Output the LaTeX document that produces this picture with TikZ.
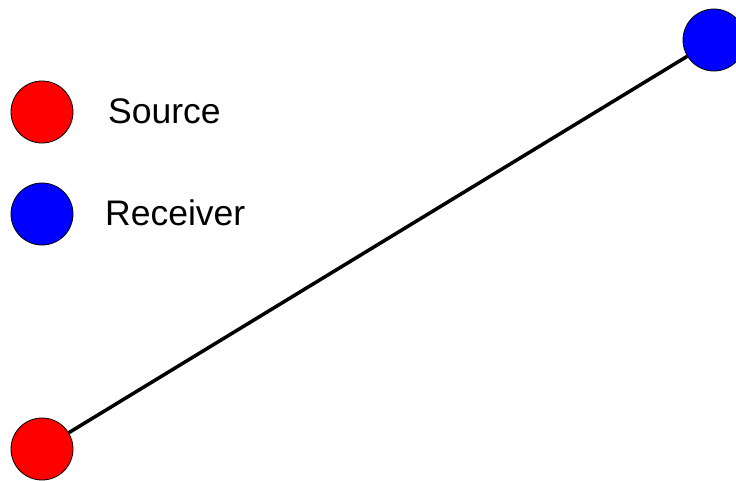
\documentclass[tikz,border=0pt]{standalone}
\usepackage{fontspec}
\setmainfont{Liberation Sans}
\begin{document}
\begin{tikzpicture}[x=1pt,y=-1pt,
  dot/.style={circle,draw=black,line width=0.8pt,minimum size=62pt,inner sep=0pt},
  srcdot/.style={dot,fill=red},
  rcvdot/.style={dot,fill=blue},
  lbl/.style={anchor=base west,inner sep=0pt,font=\fontsize{35.5}{40}\selectfont}]
\useasboundingbox (0,0) rectangle (736,480);
\node[srcdot] (ls) at (42,112) {};
\node[rcvdot] (lr) at (42,214) {};
\node[lbl] (lst) at (108,123) {Source};
\node[lbl] (lrt) at (105,225) {Receiver};
\node[srcdot] (s) at (42,449) {};
\node[rcvdot] (r) at (714,40) {};
\draw[line width=3.5pt] (s) -- (r);
\end{tikzpicture}
\end{document}
